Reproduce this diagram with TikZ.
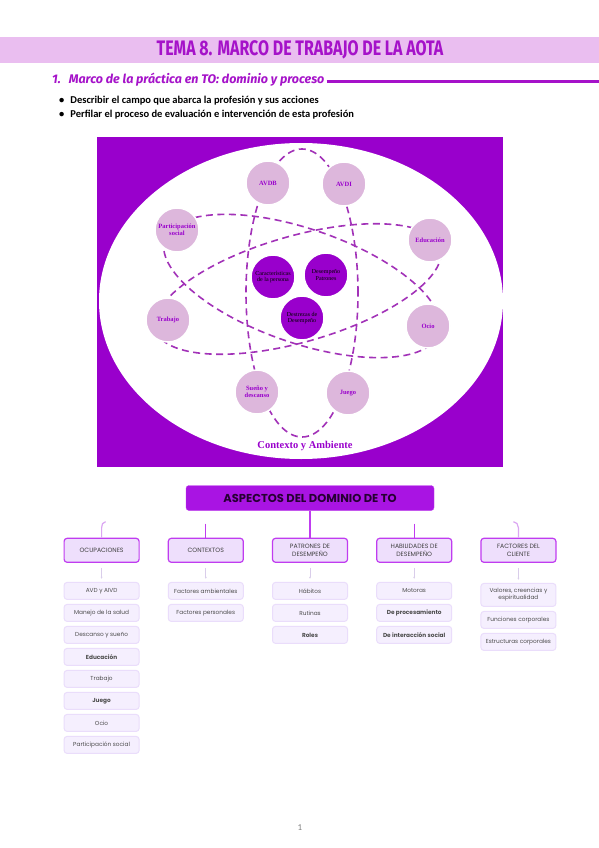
\documentclass[tikz,border=0pt]{standalone}
\usepackage{fontspec}
\setmainfont{Liberation Serif}
\newfontfamily\headfont{Fira Sans}
\newfontfamily\bodyfont{Carlito}
\newfontfamily\mapfont{Poppins}
\usetikzlibrary{arrows.meta,positioning}
\definecolor{atomviolet}{HTML}{9900CC}
\definecolor{band}{HTML}{EABEF0}
\definecolor{titleviolet}{HTML}{A512C9}
\definecolor{rose}{HTML}{DDB7DC}
\definecolor{orbitviolet}{HTML}{A232B8}
\definecolor{topfill}{HTML}{A914E3}
\definecolor{catline}{HTML}{C03CF0}
\definecolor{catfill}{HTML}{EEDFFC}
\definecolor{itemline}{HTML}{EADDFB}
\definecolor{itemfill}{HTML}{F5EFFE}
\definecolor{hookline}{HTML}{DBA6F2}
\definecolor{dropline}{HTML}{D9CDEA}

\begin{document}
\begin{tikzpicture}[x=1pt,y=-1pt,
  node distance=4pt and 28pt,
  ring/.style={circle,fill=rose,draw=white,line width=1.5pt,minimum size=44pt,inner sep=0pt,align=center,text=atomviolet,font=\bfseries\fontsize{6.5}{7}\selectfont},
  core/.style={circle,fill=atomviolet,draw=white,line width=1.5pt,minimum size=44pt,inner sep=0pt,align=center,font=\fontsize{6}{6.5}\selectfont},
  orbit/.style={draw=orbitviolet,line width=1.6pt,dash pattern=on 7pt off 4.5pt},
  topbox/.style={fill=topfill,draw=catline,rounded corners=3pt,minimum width=248pt,minimum height=25pt,font=\mapfont\bfseries\fontsize{11.5}{13}\selectfont,text=black!75!atomviolet},
  cat/.style={draw=catline,line width=1.2pt,fill=catfill,rounded corners=3pt,minimum width=75pt,minimum height=24pt,inner sep=1pt,align=center,font=\mapfont\fontsize{6.2}{7.6}\selectfont,text=black!75},
  item/.style={draw=itemline,line width=1pt,fill=itemfill,rounded corners=3pt,minimum width=75pt,minimum height=17pt,inner sep=1pt,align=center,font=\mapfont\fontsize{5.8}{7.2}\selectfont,text=black!70},
  link/.style={draw=catline,line width=1.2pt},
  hook/.style={draw=hookline,line width=1.2pt},
  drop/.style={-{Latex[length=2pt,width=2pt]},draw=dropline,line width=0.8pt,shorten <=5pt,shorten >=3pt}
]
\useasboundingbox (0,0) rectangle (599,848);
\fill[white] (0,0) rectangle (599,848);
% title and heading
\fill[band] (0,37) rectangle (599,63);
\node (title) at (300,50) {\headfont\bfseries\fontsize{21}{24}\selectfont\color{titleviolet}\scalebox{0.76}[1]{TEMA 8. MARCO DE TRABAJO DE LA AOTA}};
\node[anchor=west,inner sep=0pt,text=titleviolet,font=\headfont\bfseries\itshape\fontsize{12.5}{14}\selectfont] (head) at (52,80) {1.\hspace{8pt}Marco de la práctica en TO: dominio y proceso};
\coordinate (headend) at (599,82);
\draw[titleviolet,line width=3pt] ([xshift=2pt]head.east |- headend) -- (headend);
\node[anchor=west,inner sep=0pt,font=\bodyfont\bfseries\fontsize{10.5}{12}\selectfont] (b1) at (59,101) {\textbullet\hspace{6pt}Describir el campo que abarca la profesión y sus acciones};
\node[anchor=west,inner sep=0pt,font=\bodyfont\bfseries\fontsize{10.5}{12}\selectfont] (b2) at (59,115) {\textbullet\hspace{6pt}Perfilar el proceso de evaluación e intervención de esta profesión};
% atom
\fill[atomviolet] (97,137) rectangle (503,467);
\fill[white] (301,301) ellipse [x radius=202pt,y radius=158pt];
\draw[orbit] (302,293) ellipse [x radius=56pt,y radius=144pt];
\draw[orbit,rotate around={-19:(302,286)}] (302,286) ellipse [x radius=145pt,y radius=57pt];
\draw[orbit,rotate around={16:(298,289)}] (298,289) ellipse [x radius=148pt,y radius=53pt];
\node[ring] (avdb) at (268,183) {AVDB};
\node[ring] (avdi) at (344,184) {AVDI};
\node[ring] (social) at (177,230) {Participación\\social};
\node[ring] (edu) at (430,240) {Educación};
\node[ring] (trabajo) at (168,320) {Trabajo};
\node[ring] (ocio) at (428,326) {Ocio};
\node[ring] (sueno) at (257,392) {Sueño y\\descanso};
\node[ring] (juego) at (348,393) {Juego};
\node[core] (persona) at (273,277) {Características\\de la persona};
\node[core] (patrones) at (326,275) {Desempeño\\Patrones};
\node[core] (destrezas) at (302,318) {Destrezas de\\Desempeño};
\node[text=atomviolet,font=\bfseries\fontsize{10.5}{12}\selectfont] (ctx) at (305,446) {Contexto y Ambiente};
% mind map
\node[topbox] (aspectos) at (310,498) {ASPECTOS DEL DOMINIO DE TO};
\node[cat,below=27pt of aspectos] (patr) {PATRONES DE\\DESEMPEÑO};
\node[cat,left=28pt of patr] (contx) {CONTEXTOS};
\node[cat,left=28pt of contx] (ocup) {OCUPACIONES};
\node[cat,right=28pt of patr] (habil) {HABILIDADES DE\\DESEMPEÑO};
\node[cat,right=28pt of habil] (fact) {FACTORES DEL\\CLIENTE};
\draw[link] (aspectos) -- (patr);
\coordinate[above=14pt of contx.north] (contxtop);
\coordinate[above=14pt of habil.north] (habiltop);
\draw[link] (contxtop) -- (contx);
\draw[link] (habiltop) -- (habil);
\coordinate[above right=16pt and 4pt of ocup.north] (ocuptip);
\coordinate[above left=16pt and 5pt of fact.north] (facttip);
\draw[hook] (ocup.north) -- ++(0,-10) to[out=90,in=180] (ocuptip);
\draw[hook] (fact.north) -- ++(0,-10) to[out=90,in=0] (facttip);
% ocupaciones
\node[item,below=19pt of ocup] (o1) {AVD y AIVD};
\node[item,below=of o1] (o2) {Manejo de la salud};
\node[item,below=of o2] (o3) {Descanso y sueño};
\node[item,below=of o3] (o4) {\bfseries Educación};
\node[item,below=of o4] (o5) {Trabajo};
\node[item,below=of o5] (o6) {\bfseries Juego};
\node[item,below=of o6] (o7) {Ocio};
\node[item,below=of o7] (o8) {Participación social};
% contextos
\node[item,below=19pt of contx] (c1) {Factores ambientales};
\node[item,below=of c1] (c2) {Factores personales};
% patrones
\node[item,below=19pt of patr] (p1) {Hábitos};
\node[item,below=of p1] (p2) {Rutinas};
\node[item,below=of p2] (p3) {\bfseries Roles};
% habilidades
\node[item,below=19pt of habil] (h1) {Motoras};
\node[item,below=of h1] (h2) {\bfseries De procesamiento};
\node[item,below=of h2] (h3) {\bfseries De interacción social};
% factores
\node[item,minimum height=23pt,below=20pt of fact] (f1) {Valores, creencias y\\espiritualidad};
\node[item,below=of f1] (f2) {Funciones corporales};
\node[item,below=of f2] (f3) {Estructuras corporales};
\draw[drop] (ocup) -- (o1);
\draw[drop] (contx) -- (c1);
\draw[drop] (patr) -- (p1);
\draw[drop] (habil) -- (h1);
\draw[drop] (fact) -- (f1);
\node[text=gray,font=\bodyfont\fontsize{9}{10}\selectfont] (pagenum) at (300,828) {1};
\end{tikzpicture}
\end{document}
